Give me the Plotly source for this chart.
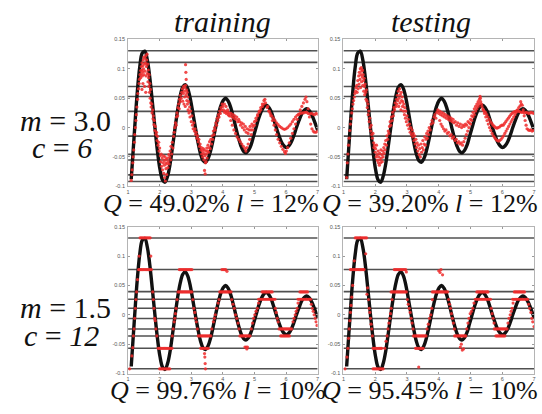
import plotly.graph_objects as go

W, H = 542, 414

# Target signal (damped oscillation), read at regular positions along x
curve_x = [1.10, 1.15, 1.21, 1.29, 1.37, 1.45, 1.53, 1.61, 1.69, 1.77, 1.85, 1.93, 2.01, 2.09,
           2.17, 2.25, 2.33, 2.41, 2.49, 2.57, 2.65, 2.73, 2.81, 2.89, 2.97, 3.05, 3.13, 3.21,
           3.29, 3.37, 3.45, 3.53, 3.61, 3.69, 3.77, 3.85, 3.93, 4.01, 4.09, 4.17, 4.25, 4.33,
           4.41, 4.49, 4.57, 4.65, 4.73, 4.81, 4.89, 4.97, 5.05, 5.13, 5.21, 5.29, 5.37, 5.45,
           5.53, 5.61, 5.69, 5.77, 5.85, 5.93, 6.01, 6.09, 6.17, 6.25, 6.33, 6.41, 6.49, 6.57,
           6.65, 6.73, 6.81, 6.89, 6.97, 7.00]
curve_y = [-0.088, -0.048, 0.000, 0.059, 0.103, 0.127, 0.130, 0.115, 0.084, 0.043, 0.000,
           -0.040, -0.071, -0.089, -0.093, -0.083, -0.062, -0.032, 0.000, 0.030, 0.054, 0.069,
           0.073, 0.066, 0.049, 0.025, 0.000, -0.024, -0.044, -0.056, -0.059, -0.053, -0.040,
           -0.021, 0.000, 0.020, 0.036, 0.046, 0.050, 0.045, 0.034, 0.018, 0.000, -0.017,
           -0.031, -0.040, -0.043, -0.039, -0.030, -0.015, 0.000, 0.015, 0.027, 0.035, 0.038,
           0.035, 0.027, 0.014, 0.000, -0.013, -0.024, -0.031, -0.034, -0.031, -0.024, -0.013,
           0.000, 0.012, 0.023, 0.029, 0.032, 0.029, 0.022, 0.012, 0.000, -0.005]

# Quantisation levels for each parameter setting
levels_m30 = [0.1307, 0.111, 0.0699, 0.053, 0.0276, -0.0146, -0.0456, -0.0552, -0.0806, -0.0918]
levels_m15 = [0.1307, 0.0772, 0.0394, 0.0265, 0.0113, -0.0062, -0.0242, -0.0361, -0.0569, -0.0918]

# Model outputs, m = 3.0, c = 6, training set
dots_train_m30 = [
    (1.10, -0.090), (1.12, -0.080), (1.13, -0.072), (1.15, -0.060), (1.16, -0.050), (1.18, -0.038),
    (1.20, -0.025), (1.21, -0.012), (1.23, 0.000), (1.25, 0.012), (1.26, 0.022), (1.28, 0.035),
    (1.30, 0.048), (1.31, 0.058), (1.33, 0.066), (1.35, 0.075), (1.36, 0.082), (1.38, 0.090),
    (1.40, 0.097), (1.42, 0.104), (1.44, 0.110),
    (1.40, 0.085), (1.42, 0.092), (1.44, 0.098), (1.45, 0.088), (1.46, 0.105), (1.47, 0.095),
    (1.48, 0.115), (1.49, 0.100), (1.50, 0.120), (1.50, 0.090), (1.52, 0.108), (1.53, 0.118),
    (1.54, 0.096), (1.55, 0.110), (1.56, 0.122), (1.57, 0.088), (1.58, 0.104), (1.59, 0.115),
    (1.60, 0.125), (1.61, 0.092), (1.62, 0.108), (1.63, 0.078), (1.64, 0.098), (1.65, 0.085),
    (1.66, 0.070), (1.67, 0.090), (1.68, 0.060), (1.69, 0.075), (1.70, 0.050), (1.71, 0.065),
    (1.72, 0.042), (1.47, 0.075), (1.52, 0.070), (1.56, 0.060), (1.44, 0.065),
    (1.73, 0.035), (1.75, 0.040), (1.76, 0.025), (1.78, 0.030), (1.79, 0.015), (1.80, 0.020),
    (1.82, 0.005), (1.83, 0.012), (1.85, -0.005), (1.86, 0.002), (1.88, -0.012), (1.90, -0.008),
    (1.92, -0.022), (1.93, -0.015), (1.95, -0.030), (1.97, -0.025), (1.98, -0.040), (2.00, -0.035),
    (2.02, -0.048),
    (2.03, -0.058), (2.05, -0.045), (2.06, -0.066), (2.08, -0.052), (2.09, -0.072), (2.10, -0.060),
    (2.12, -0.048), (2.13, -0.078), (2.14, -0.056), (2.15, -0.064), (2.16, -0.085), (2.17, -0.050),
    (2.18, -0.091), (2.19, -0.060), (2.20, -0.070), (2.21, -0.054), (2.22, -0.080), (2.23, -0.062),
    (2.25, -0.052), (2.26, -0.068), (2.27, -0.058), (2.29, -0.046), (2.30, -0.062), (2.32, -0.050),
    (2.33, -0.040), (2.35, -0.055), (2.36, -0.032), (2.38, -0.045), (2.40, -0.025), (2.42, -0.035),
    (2.44, -0.015),
    (2.46, -0.008), (2.48, 0.000), (2.50, 0.008), (2.52, 0.004), (2.53, 0.018), (2.55, 0.025),
    (2.57, 0.020), (2.58, 0.034), (2.60, 0.040), (2.62, 0.032), (2.63, 0.048), (2.65, 0.044),
    (2.66, 0.055), (2.68, 0.050), (2.70, 0.060),
    (2.72, 0.066), (2.73, 0.045), (2.75, 0.058), (2.76, 0.070), (2.77, 0.040), (2.78, 0.062),
    (2.79, 0.052), (2.80, 0.068), (2.81, 0.036), (2.82, 0.072), (2.82, 0.107), (2.83, 0.094),
    (2.84, 0.082), (2.84, 0.056), (2.85, 0.064), (2.86, 0.046), (2.87, 0.060), (2.88, 0.040),
    (2.89, 0.052), (2.90, 0.030), (2.92, 0.044), (2.93, 0.025), (2.95, 0.035), (2.96, 0.018),
    (2.98, 0.028), (3.00, 0.010), (3.02, 0.020),
    (3.04, 0.004), (3.06, -0.002), (3.08, 0.008), (3.10, -0.006), (3.12, -0.002), (3.14, -0.012),
    (3.16, -0.008), (3.18, -0.018), (3.20, -0.014), (3.22, -0.024), (3.24, -0.020), (3.26, -0.032),
    (3.28, -0.028), (3.30, -0.038),
    (3.32, -0.034), (3.33, -0.045), (3.35, -0.040), (3.36, -0.050), (3.38, -0.036), (3.39, -0.044),
    (3.40, -0.055), (3.41, -0.038), (3.42, -0.073), (3.43, -0.048), (3.44, -0.079), (3.45, -0.060),
    (3.46, -0.040), (3.47, -0.058), (3.48, -0.045), (3.49, -0.035), (3.50, -0.052), (3.52, -0.040),
    (3.53, -0.030), (3.55, -0.042), (3.57, -0.034), (3.58, -0.024), (3.60, -0.036), (3.62, -0.020),
    (3.64, -0.028), (3.66, -0.014),
    (3.68, -0.020), (3.70, -0.006), (3.72, -0.012), (3.74, 0.000), (3.76, -0.004), (3.78, 0.008),
    (3.80, 0.004), (3.82, 0.016), (3.84, 0.012), (3.86, 0.022), (3.88, 0.018), (3.90, 0.028),
    (3.92, 0.024), (3.94, 0.034), (3.96, 0.030), (3.98, 0.040), (4.00, 0.036),
    (4.02, 0.030), (4.05, 0.026), (4.08, 0.028), (4.11, 0.024), (4.14, 0.026), (4.17, 0.022),
    (4.20, 0.025), (4.23, 0.020), (4.26, 0.024), (4.29, 0.018), (4.32, 0.022), (4.35, 0.016),
    (4.38, 0.020), (4.41, 0.014), (4.44, 0.018), (4.47, 0.010), (4.50, 0.014),
    (4.53, 0.010), (4.56, 0.004), (4.59, 0.008), (4.62, 0.000), (4.65, 0.006), (4.68, -0.004),
    (4.71, 0.002), (4.74, -0.008), (4.77, -0.002), (4.80, -0.010), (4.83, -0.004), (4.86, 0.002),
    (4.89, -0.004), (4.92, 0.006), (4.95, 0.002),
    (4.05, 0.040), (4.10, 0.036), (4.15, 0.030), (4.20, 0.020), (4.25, 0.012), (4.30, 0.004),
    (4.35, -0.004), (4.40, -0.010), (4.45, -0.016), (4.50, -0.020), (4.55, -0.024), (4.60, -0.028),
    (4.65, -0.032), (4.70, -0.036), (4.73, -0.040), (4.76, -0.034), (4.80, -0.028), (4.85, -0.020),
    (4.90, -0.012), (4.95, -0.004),
    (5.00, 0.010), (5.05, 0.016), (5.10, 0.022), (5.15, 0.028), (5.20, 0.034), (5.25, 0.040),
    (5.30, 0.046), (5.33, 0.048),
    (5.00, 0.004), (5.05, 0.012), (5.10, 0.020), (5.15, 0.026), (5.20, 0.030), (5.25, 0.036),
    (5.30, 0.040), (5.35, 0.042),
    (5.40, 0.034), (5.45, 0.028), (5.50, 0.024), (5.55, 0.020), (5.60, 0.016), (5.65, 0.012),
    (5.70, 0.008), (5.75, 0.005), (5.80, 0.002), (5.85, 0.000), (5.90, -0.002), (5.95, -0.003),
    (6.00, -0.002), (6.05, 0.000), (6.10, 0.003), (6.15, 0.006), (6.20, 0.010), (6.25, 0.014),
    (6.30, 0.018), (6.35, 0.021), (6.40, 0.023), (6.45, 0.024), (6.50, 0.025), (6.55, 0.025),
    (6.60, 0.026), (6.65, 0.026), (6.70, 0.024), (6.75, 0.023), (6.80, 0.024), (6.85, 0.023),
    (6.90, 0.022), (6.95, 0.024), (7.00, 0.023),
    (5.42, 0.036), (5.47, 0.028), (5.52, 0.020), (5.57, 0.012), (5.62, 0.004), (5.66, -0.004),
    (5.70, -0.012), (5.75, -0.020), (5.80, -0.026), (5.85, -0.032), (5.90, -0.037), (5.95, -0.041),
    (5.98, -0.044), (6.01, -0.040), (6.05, -0.034), (6.10, -0.026), (6.15, -0.018), (6.20, -0.010),
    (6.25, -0.002), (6.30, 0.006), (6.35, 0.014), (6.40, 0.022), (6.45, 0.030), (6.50, 0.036),
    (6.55, 0.042), (6.60, 0.048), (6.63, 0.052), (6.66, 0.044), (6.70, 0.032), (6.74, 0.018),
    (6.78, 0.006), (6.82, -0.002), (6.86, -0.006), (6.90, -0.008), (6.95, -0.008), (7.00, -0.006),
]

# Model outputs, m = 3.0, c = 6, testing set
dots_test_m30 = [
    (1.10, -0.085), (1.12, -0.060), (1.14, -0.045), (1.16, -0.030), (1.18, -0.018), (1.20, -0.005),
    (1.22, 0.006), (1.24, 0.015), (1.26, 0.025), (1.28, 0.032), (1.30, 0.040), (1.32, 0.046),
    (1.34, 0.052), (1.36, 0.058), (1.38, 0.062), (1.40, 0.068),
    (1.42, 0.072), (1.43, 0.060), (1.45, 0.080), (1.46, 0.066), (1.48, 0.088), (1.49, 0.074),
    (1.50, 0.094), (1.52, 0.082), (1.53, 0.100), (1.54, 0.068), (1.55, 0.090), (1.56, 0.102),
    (1.57, 0.078), (1.58, 0.096), (1.59, 0.086), (1.60, 0.098), (1.61, 0.072), (1.62, 0.090),
    (1.63, 0.080), (1.64, 0.062), (1.65, 0.084), (1.66, 0.070), (1.67, 0.056), (1.68, 0.074),
    (1.70, 0.060), (1.71, 0.048), (1.72, 0.064), (1.74, 0.045),
    (1.75, 0.034), (1.77, 0.040), (1.78, 0.022), (1.80, 0.028), (1.81, 0.010), (1.83, 0.016),
    (1.84, 0.000), (1.86, -0.006), (1.87, 0.004), (1.89, -0.012), (1.91, -0.018), (1.93, -0.010),
    (1.95, -0.026),
    (1.96, -0.034), (1.98, -0.030), (2.00, -0.042), (2.01, -0.036), (2.03, -0.050), (2.04, -0.030),
    (2.06, -0.046), (2.07, -0.056), (2.09, -0.040), (2.10, -0.060), (2.11, -0.050), (2.13, -0.064),
    (2.14, -0.044), (2.15, -0.055), (2.17, -0.060), (2.18, -0.038), (2.19, -0.052), (2.21, -0.046),
    (2.22, -0.058), (2.24, -0.040), (2.25, -0.050), (2.27, -0.034), (2.28, -0.044), (2.30, -0.028),
    (2.31, -0.038), (2.33, -0.022), (2.35, -0.030),
    (2.37, -0.014), (2.39, -0.020), (2.41, -0.006), (2.43, -0.010), (2.45, 0.002), (2.47, 0.010),
    (2.49, 0.004), (2.51, 0.018), (2.53, 0.012), (2.55, 0.026), (2.57, 0.020), (2.59, 0.034),
    (2.61, 0.030), (2.63, 0.042), (2.65, 0.036), (2.67, 0.048),
    (2.68, 0.040), (2.70, 0.055), (2.71, 0.046), (2.73, 0.062), (2.74, 0.036), (2.75, 0.050),
    (2.77, 0.066), (2.78, 0.042), (2.79, 0.056), (2.81, 0.030), (2.82, 0.060), (2.83, 0.046),
    (2.85, 0.052), (2.86, 0.036), (2.87, 0.044), (2.89, 0.028), (2.90, 0.040), (2.92, 0.022),
    (2.93, 0.034), (2.95, 0.016), (2.96, 0.028), (2.98, 0.010), (3.00, 0.020), (3.02, 0.004),
    (3.04, 0.014),
    (3.06, -0.002), (3.08, 0.006), (3.10, -0.008), (3.12, 0.000), (3.14, -0.012), (3.16, -0.004),
    (3.18, -0.016), (3.20, -0.010), (3.22, -0.022), (3.24, -0.014), (3.26, -0.028),
    (3.28, -0.020), (3.30, -0.034), (3.32, -0.026), (3.34, -0.040), (3.36, -0.030), (3.38, -0.046),
    (3.40, -0.036), (3.42, -0.050), (3.44, -0.028), (3.46, -0.042), (3.48, -0.034), (3.50, -0.022),
    (3.52, -0.038), (3.54, -0.028), (3.56, -0.016), (3.58, -0.030), (3.60, -0.020), (3.62, -0.010),
    (3.64, -0.018), (3.66, -0.006), (3.68, -0.012), (3.70, 0.000), (3.73, -0.004), (3.76, 0.006),
    (3.79, 0.012), (3.82, 0.008), (3.85, 0.018), (3.88, 0.022), (3.91, 0.016), (3.94, 0.026),
    (3.97, 0.030), (4.00, 0.024),
    (4.03, 0.028), (4.06, 0.022), (4.09, 0.026), (4.12, 0.020), (4.15, 0.024), (4.18, 0.018),
    (4.21, 0.022), (4.24, 0.016), (4.27, 0.020), (4.30, 0.014), (4.33, 0.018), (4.36, 0.012),
    (4.39, 0.016), (4.42, 0.010), (4.45, 0.014), (4.48, 0.008), (4.52, 0.010), (4.56, 0.004),
    (4.60, 0.008), (4.64, 0.002), (4.68, 0.006), (4.72, 0.000), (4.76, 0.004), (4.80, 0.002),
    (4.84, 0.006), (4.88, 0.004), (4.92, 0.010), (4.96, 0.008),
    (4.03, 0.012), (4.07, 0.006), (4.11, 0.002), (4.15, -0.002), (4.19, -0.006), (4.23, -0.004),
    (4.27, -0.010), (4.31, -0.008), (4.35, -0.014), (4.39, -0.012), (4.43, -0.018), (4.47, -0.016),
    (4.51, -0.022), (4.55, -0.020), (4.59, -0.026), (4.63, -0.024), (4.67, -0.028), (4.71, -0.026),
    (4.75, -0.030), (4.79, -0.024), (4.83, -0.018), (4.87, -0.012), (4.91, -0.006), (4.95, 0.000),
    (5.00, 0.014), (5.04, 0.020), (5.08, 0.026), (5.12, 0.032), (5.16, 0.036), (5.20, 0.040),
    (5.24, 0.044), (5.28, 0.048), (5.31, 0.050),
    (5.00, 0.006), (5.04, 0.012), (5.08, 0.018), (5.12, 0.022), (5.16, 0.028), (5.20, 0.032),
    (5.24, 0.036), (5.28, 0.040), (5.32, 0.044),
    (5.35, 0.040), (5.39, 0.032), (5.43, 0.028), (5.47, 0.026), (5.51, 0.022), (5.55, 0.018),
    (5.59, 0.014), (5.63, 0.010), (5.67, 0.007), (5.71, 0.004), (5.75, 0.002), (5.79, 0.000),
    (5.83, -0.001), (5.87, 0.000), (5.91, 0.001), (5.95, 0.003), (5.99, 0.004), (6.03, 0.004),
    (6.07, 0.007), (6.11, 0.010), (6.15, 0.013), (6.19, 0.016), (6.23, 0.019), (6.27, 0.022),
    (6.31, 0.024), (6.35, 0.026), (6.39, 0.027), (6.43, 0.028), (6.47, 0.029), (6.51, 0.028),
    (6.55, 0.027), (6.60, 0.026), (6.65, 0.026), (6.70, 0.025), (6.75, 0.026), (6.80, 0.025),
    (6.85, 0.024), (6.90, 0.026), (6.95, 0.025), (7.00, 0.024),
    (5.36, 0.036), (5.40, 0.030), (5.44, 0.024), (5.48, 0.018), (5.52, 0.012), (5.56, 0.006),
    (5.60, 0.000), (5.64, -0.005), (5.68, -0.010), (5.72, -0.014), (5.76, -0.017), (5.80, -0.020),
    (5.84, -0.022), (5.88, -0.023), (5.92, -0.022), (5.96, -0.020), (6.00, -0.017), (6.04, -0.014),
    (6.08, -0.010), (6.12, -0.006), (6.16, -0.002), (6.20, 0.002), (6.24, 0.006), (6.28, 0.010),
    (6.32, 0.014), (6.36, 0.018), (6.40, 0.022), (6.44, 0.026), (6.48, 0.030), (6.52, 0.034),
    (6.56, 0.037), (6.60, 0.040), (6.63, 0.038), (6.66, 0.030), (6.69, 0.020), (6.72, 0.012),
    (6.75, 0.004), (6.78, -0.002), (6.82, -0.004), (6.86, -0.005), (6.90, -0.004), (6.94, -0.006),
    (6.98, -0.005), (5.30, 0.053), (6.58, 0.044),
]

# Model outputs, m = 1.5, c = 12, training set
dots_train_m15 = [
    (1.05, -0.092), (1.12, -0.070), (1.15, -0.056), (1.17, -0.036), (1.19, -0.024), (1.21, -0.006),
    (1.23, 0.011), (1.25, 0.026), (1.27, 0.039), (1.30, 0.060), (1.35, 0.100), (1.72, 0.100),
    (1.33, 0.077), (1.36, 0.077), (1.39, 0.077), (1.42, 0.077), (1.46, 0.077), (1.50, 0.077),
    (1.54, 0.077), (1.58, 0.077), (1.62, 0.077), (1.66, 0.077), (1.70, 0.077), (1.74, 0.077),
    (1.38, 0.131), (1.42, 0.131), (1.46, 0.131), (1.50, 0.131), (1.54, 0.131), (1.58, 0.131),
    (1.62, 0.131), (1.66, 0.131), (1.70, 0.131),
    (1.78, 0.039), (1.80, 0.026), (1.82, 0.011), (1.84, -0.006), (1.86, -0.010), (1.88, -0.024),
    (1.91, -0.036), (1.95, -0.057),
    (1.99, -0.057), (2.03, -0.057), (2.07, -0.057), (2.11, -0.057), (2.15, -0.057), (2.19, -0.057),
    (2.23, -0.057), (2.27, -0.057), (2.31, -0.057), (2.35, -0.057), (2.39, -0.057),
    (2.00, -0.092), (2.04, -0.092), (2.08, -0.092), (2.12, -0.092), (2.16, -0.092), (2.20, -0.092),
    (2.24, -0.092), (2.28, -0.092), (2.32, -0.092),
    (2.40, -0.036), (2.43, -0.024), (2.46, -0.012), (2.48, -0.006), (2.50, 0.002), (2.52, 0.011),
    (2.55, 0.026), (2.58, 0.039),
    (2.62, 0.077), (2.66, 0.077), (2.70, 0.077), (2.74, 0.077), (2.78, 0.077), (2.82, 0.077),
    (2.86, 0.077), (2.90, 0.077), (2.94, 0.077), (2.98, 0.077), (3.02, 0.077),
    (2.62, 0.039), (2.66, 0.039), (2.70, 0.039), (2.74, 0.039), (2.78, 0.039), (2.82, 0.039),
    (2.86, 0.039), (2.90, 0.039), (2.94, 0.039), (2.98, 0.039), (3.02, 0.039),
    (3.05, 0.026), (3.08, 0.011), (3.11, 0.004), (3.13, -0.006), (3.16, -0.012), (3.19, -0.024),
    (3.22, -0.036), (3.26, -0.036), (3.30, -0.036), (3.34, -0.036), (3.38, -0.036), (3.42, -0.036),
    (3.46, -0.036), (3.50, -0.036), (3.54, -0.036), (3.58, -0.036), (3.62, -0.036),
    (3.30, -0.057), (3.34, -0.057), (3.38, -0.057), (3.42, -0.057), (3.46, -0.057), (3.50, -0.057),
    (3.54, -0.057), (3.42, -0.066), (3.43, -0.072), (3.44, -0.083), (3.45, -0.092),
    (3.65, -0.024), (3.70, -0.012), (3.73, -0.006), (3.76, 0.000), (3.80, 0.011), (3.85, 0.020),
    (3.88, 0.026),
    (3.90, 0.039), (3.94, 0.039), (3.98, 0.039), (4.02, 0.039), (4.06, 0.039), (4.10, 0.039),
    (4.14, 0.039), (4.18, 0.039), (4.22, 0.039), (4.26, 0.039),
    (3.97, 0.077), (4.01, 0.077), (4.05, 0.077), (4.09, 0.077), (4.13, 0.074),
    (4.28, 0.026), (4.32, 0.018), (4.36, 0.011), (4.40, 0.000), (4.44, -0.006), (4.48, -0.014),
    (4.51, -0.024),
    (4.54, -0.036), (4.58, -0.036), (4.62, -0.036), (4.66, -0.036), (4.70, -0.036), (4.74, -0.036),
    (4.78, -0.036), (4.82, -0.036), (4.86, -0.036),
    (4.70, -0.055), (4.74, -0.055), (4.78, -0.055), (4.76, -0.058),
    (4.90, -0.024), (4.94, -0.014), (4.97, -0.006), (5.01, 0.000), (5.05, 0.006), (5.09, 0.011),
    (5.13, 0.020),
    (5.13, 0.0265), (5.17, 0.0265), (5.21, 0.0265), (5.25, 0.0265), (5.29, 0.0265), (5.33, 0.0265),
    (5.37, 0.0265), (5.41, 0.0265), (5.45, 0.0265), (5.49, 0.0265), (5.53, 0.0265), (5.57, 0.0265),
    (5.61, 0.0265), (5.65, 0.0265),
    (5.24, 0.039), (5.28, 0.039), (5.32, 0.039), (5.36, 0.039), (5.40, 0.039), (5.44, 0.039),
    (5.48, 0.039), (5.52, 0.039), (5.56, 0.039),
    (5.66, 0.011), (5.69, 0.004), (5.72, -0.006), (5.75, -0.012),
    (5.78, -0.024), (5.82, -0.024), (5.86, -0.024), (5.90, -0.024), (5.94, -0.024), (5.98, -0.024),
    (6.02, -0.024), (6.06, -0.024), (6.10, -0.024), (6.14, -0.024), (6.18, -0.024),
    (5.83, -0.036), (5.87, -0.036), (5.91, -0.036), (5.95, -0.036), (5.99, -0.036), (6.03, -0.036),
    (6.07, -0.036), (6.11, -0.036),
    (6.22, -0.012), (6.25, -0.006), (6.29, 0.000), (6.32, 0.006), (6.35, 0.011), (6.38, 0.020),
    (6.38, 0.0265), (6.42, 0.0265), (6.46, 0.0265), (6.50, 0.0265), (6.54, 0.0265), (6.58, 0.0265),
    (6.62, 0.0265), (6.66, 0.0265), (6.70, 0.0265), (6.74, 0.0265), (6.78, 0.0265),
    (6.44, 0.039), (6.48, 0.039), (6.52, 0.039), (6.56, 0.039), (6.60, 0.039), (6.64, 0.039),
    (6.68, 0.039),
    (6.80, 0.018), (6.83, 0.011), (6.86, 0.006), (6.89, 0.000), (6.92, -0.006), (6.95, -0.012),
    (6.98, -0.018),
]

# Model outputs, m = 1.5, c = 12, testing set
dots_test_m15 = [
    (1.05, -0.092), (1.11, -0.072), (1.14, -0.057), (1.16, -0.040), (1.18, -0.024), (1.20, -0.010),
    (1.22, 0.004), (1.24, 0.016), (1.26, 0.030), (1.29, 0.050), (1.34, 0.092), (1.70, 0.104),
    (1.22, 0.077), (1.26, 0.077), (1.30, 0.077), (1.34, 0.077), (1.38, 0.077), (1.42, 0.077),
    (1.46, 0.077), (1.50, 0.077), (1.54, 0.077), (1.58, 0.077), (1.62, 0.077), (1.65, 0.077),
    (1.37, 0.131), (1.41, 0.131), (1.45, 0.131), (1.49, 0.131), (1.53, 0.131), (1.57, 0.131),
    (1.61, 0.131), (1.65, 0.131), (1.69, 0.131), (1.73, 0.131),
    (1.74, 0.035), (1.76, 0.046), (1.79, 0.026), (1.81, 0.011), (1.83, 0.004), (1.85, -0.006),
    (1.87, -0.016), (1.89, -0.024), (1.91, -0.036),
    (1.93, -0.057), (1.97, -0.057), (2.01, -0.057), (2.05, -0.057), (2.09, -0.057), (2.13, -0.057),
    (2.17, -0.057), (2.20, -0.057),
    (1.93, -0.092), (1.97, -0.092), (2.01, -0.092), (2.05, -0.092), (2.09, -0.092), (2.13, -0.092),
    (2.17, -0.092), (2.21, -0.092), (2.25, -0.092),
    (2.30, -0.057), (2.34, -0.045), (2.37, -0.036), (2.40, -0.024), (2.43, -0.014), (2.46, -0.006),
    (2.48, 0.002), (2.50, 0.011), (2.53, 0.026),
    (2.50, 0.039), (2.54, 0.039), (2.58, 0.039), (2.62, 0.039), (2.66, 0.039), (2.70, 0.039),
    (2.74, 0.039), (2.78, 0.039), (2.82, 0.039), (2.86, 0.039), (2.90, 0.039), (2.94, 0.039),
    (2.98, 0.039),
    (2.60, 0.077), (2.64, 0.077), (2.68, 0.077), (2.72, 0.077), (2.76, 0.077), (2.80, 0.077),
    (2.84, 0.077), (2.88, 0.077), (2.92, 0.077), (2.96, 0.077), (2.98, 0.073),
    (3.01, 0.026), (3.04, 0.018), (3.07, 0.011), (3.10, 0.004), (3.13, -0.006), (3.16, -0.014),
    (3.19, -0.024),
    (3.20, -0.036), (3.24, -0.036), (3.28, -0.036), (3.32, -0.036), (3.36, -0.036), (3.40, -0.036),
    (3.44, -0.036), (3.48, -0.036), (3.52, -0.036), (3.56, -0.036), (3.60, -0.036),
    (3.27, -0.057), (3.31, -0.057), (3.35, -0.057), (3.39, -0.057), (3.43, -0.057), (3.47, -0.057),
    (3.51, -0.057), (3.37, -0.089),
    (3.63, -0.024), (3.67, -0.016), (3.71, -0.006), (3.75, 0.000), (3.78, 0.011), (3.80, 0.026),
    (3.80, 0.039), (3.84, 0.039), (3.88, 0.039), (3.92, 0.039), (3.96, 0.039), (4.00, 0.039),
    (4.04, 0.039), (4.08, 0.039), (4.12, 0.039), (4.16, 0.039), (4.20, 0.039), (4.24, 0.039),
    (4.28, 0.039),
    (4.00, 0.075), (4.04, 0.072), (4.07, 0.077), (4.12, 0.068),
    (4.31, 0.026), (4.34, 0.018), (4.37, 0.011), (4.40, 0.002), (4.43, -0.006), (4.46, -0.014),
    (4.49, -0.024),
    (4.50, -0.036), (4.54, -0.036), (4.58, -0.036), (4.62, -0.036), (4.66, -0.036), (4.70, -0.036),
    (4.74, -0.036), (4.78, -0.036), (4.82, -0.036), (4.85, -0.036),
    (4.68, -0.055), (4.71, -0.050), (4.74, -0.060), (4.78, -0.058),
    (4.88, -0.024), (4.92, -0.014), (4.95, -0.006), (4.99, 0.002), (5.03, 0.006), (5.07, 0.011),
    (5.11, 0.020),
    (5.15, 0.0265), (5.19, 0.0265), (5.23, 0.0265), (5.27, 0.0265), (5.31, 0.0265), (5.35, 0.0265),
    (5.39, 0.0265), (5.43, 0.0265), (5.47, 0.0265), (5.51, 0.0265), (5.55, 0.0265), (5.59, 0.0265),
    (5.63, 0.0265),
    (5.20, 0.039), (5.24, 0.039), (5.28, 0.039), (5.32, 0.039), (5.36, 0.039), (5.40, 0.039),
    (5.44, 0.039), (5.48, 0.039), (5.52, 0.039), (5.55, 0.039),
    (5.65, 0.011), (5.68, 0.002), (5.71, -0.006), (5.74, -0.014),
    (5.75, -0.024), (5.79, -0.024), (5.83, -0.024), (5.87, -0.024), (5.91, -0.024), (5.95, -0.024),
    (5.99, -0.024), (6.03, -0.024), (6.07, -0.024), (6.11, -0.024), (6.15, -0.024),
    (5.80, -0.036), (5.84, -0.036), (5.88, -0.036), (5.92, -0.036), (5.96, -0.036), (6.00, -0.036),
    (6.04, -0.036), (6.08, -0.036),
    (6.18, -0.014), (6.21, -0.006), (6.25, 0.000), (6.28, 0.006), (6.31, 0.011), (6.34, 0.020),
    (6.33, 0.0265), (6.37, 0.0265), (6.41, 0.0265), (6.45, 0.0265), (6.49, 0.0265), (6.53, 0.0265),
    (6.57, 0.0265), (6.61, 0.0265), (6.65, 0.0265), (6.69, 0.0265), (6.73, 0.0265), (6.77, 0.0265),
    (6.80, 0.0265),
    (6.38, 0.039), (6.42, 0.039), (6.46, 0.039), (6.50, 0.039), (6.54, 0.039), (6.58, 0.039),
    (6.62, 0.039), (6.66, 0.039), (6.70, 0.039),
    (6.83, 0.018), (6.86, 0.011), (6.90, 0.004), (6.93, -0.006), (6.96, -0.012), (7.00, -0.020),
]

col_titles = ["training", "testing"]
row_m = ["3.0", "1.5"]
row_c = ["6", "12"]
q_scores = [["49.02%", "39.20%"], ["99.76%", "95.45%"]]
l_values = [["12%", "12%"], ["10%", "10%"]]
x_ticks = [1, 2, 3, 4, 5, 6, 7]
y_ticks = [-0.1, -0.05, 0, 0.05, 0.1, 0.15]
y_tick_text = ["-0.1", "-0.05", "0", "0.05", "0.1", "0.15"]

panel_dots = [[dots_train_m30, dots_test_m30], [dots_train_m15, dots_test_m15]]
panel_levels = [levels_m30, levels_m15]

# Panel frames in pixels: (left, right) per column, (top, bottom) per row
col_px = [(127, 318), (344, 536)]
row_px = [(37, 186), (227, 376)]
# Horizontal centres of the score lines under each panel, per row
score_cx = [[211, 431], [218, 431]]

SERIF = "Liberation Serif"
RED = "#ee2b2b"


def px_x(p):
    return p / W


def px_y(p):
    return 1 - p / H


fig = go.Figure()
layout_axes = {}
k = 0
for r in range(2):
    for c in range(2):
        k += 1
        xa = "x" if k == 1 else f"x{k}"
        ya = "y" if k == 1 else f"y{k}"
        lv = panel_levels[r]
        hx, hy = [], []
        for v in lv:
            hx += [1, 7, None]
            hy += [v, v, None]
        fig.add_trace(go.Scatter(x=hx, y=hy, mode="lines", xaxis=xa, yaxis=ya,
                                 line=dict(color="#505050", width=1.6),
                                 hoverinfo="skip", showlegend=False))
        fig.add_trace(go.Scatter(x=curve_x, y=curve_y, mode="lines", xaxis=xa, yaxis=ya,
                                 line=dict(color="#111111", width=3.4, shape="spline",
                                           smoothing=1.0),
                                 showlegend=False))
        dots = panel_dots[r][c]
        fig.add_trace(go.Scatter(x=[d[0] for d in dots], y=[d[1] for d in dots],
                                 mode="markers", xaxis=xa, yaxis=ya,
                                 marker=dict(color=RED, size=3.2, opacity=0.85, line=dict(width=0)),
                                 showlegend=False))
        axis_common = dict(showline=True, mirror="ticks", linecolor="#b4b4b4", linewidth=1,
                           ticks="inside", ticklen=2, tickcolor="#9a9a9a", showgrid=False,
                           zeroline=False, tickfont=dict(family="Liberation Sans", size=5.5,
                                                         color="#555555"))
        xl, xr = col_px[c]
        yt, yb = row_px[r]
        layout_axes["xaxis" if k == 1 else f"xaxis{k}"] = dict(
            axis_common, domain=[px_x(xl), px_x(xr)], range=[1, 7], tickvals=x_ticks,
            anchor=ya, ticklabelstandoff=0)
        layout_axes["yaxis" if k == 1 else f"yaxis{k}"] = dict(
            axis_common, domain=[px_y(yb), px_y(yt)], range=[-0.1, 0.15],
            tickvals=y_ticks, ticktext=y_tick_text, anchor=xa, ticklabelstandoff=1)

annotations = []
title_cx = [222, 432]
for c in range(2):
    annotations.append(dict(text=f"<i>{col_titles[c]}</i>", x=px_x(title_cx[c]),
                            y=px_y(19), xref="paper", yref="paper", showarrow=False,
                            xanchor="center", yanchor="middle",
                            font=dict(family=SERIF, size=30, color="#111111")))
for r in range(2):
    off = 190 * r
    annotations.append(dict(text=f"<i>m</i> = {row_m[r]}", x=px_x(64), y=px_y(119 + off),
                            xref="paper", yref="paper", showarrow=False,
                            xanchor="center", yanchor="middle",
                            font=dict(family=SERIF, size=30, color="#111111")))
    annotations.append(dict(text=f"<i>c</i> = <i>{row_c[r]}</i>", x=px_x(60),
                            y=px_y(147 + off), xref="paper", yref="paper", showarrow=False,
                            xanchor="center", yanchor="middle",
                            font=dict(family=SERIF, size=30, color="#111111")))
    for c in range(2):
        annotations.append(dict(
            text=f"<i>Q</i> = {q_scores[r][c]} <i>l</i> = {l_values[r][c]}",
            x=px_x(score_cx[r][c]), y=px_y(203 + off), xref="paper", yref="paper",
            showarrow=False, xanchor="center", yanchor="middle",
            font=dict(family=SERIF, size=26, color="#111111")))

fig.update_layout(width=W, height=H, margin=dict(l=0, r=0, t=0, b=0),
                  paper_bgcolor="white", plot_bgcolor="white",
                  annotations=annotations, showlegend=False, **layout_axes)

fig.write_html("out.html")
